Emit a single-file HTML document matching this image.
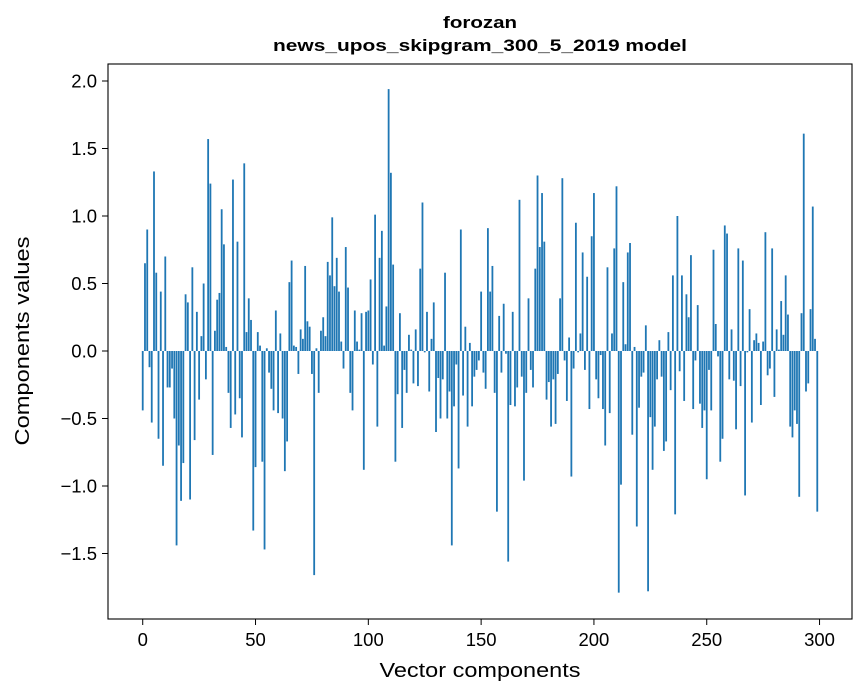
<!DOCTYPE html>
<html><head><meta charset="utf-8"><style>
body{margin:0;background:#fff;}
svg{display:block;font-family:"Liberation Sans",sans-serif;}
</style></head><body>
<svg id="chart" width="867" height="696" viewBox="0 0 867 696" xmlns="http://www.w3.org/2000/svg">
<rect x="0" y="0" width="867" height="696" fill="#fff"/>
<text x="480" y="28" text-anchor="middle" font-size="17" font-weight="bold" textLength="74" lengthAdjust="spacingAndGlyphs">forozan</text>
<text x="480" y="51" text-anchor="middle" font-size="17" font-weight="bold" textLength="414" lengthAdjust="spacingAndGlyphs">news_upos_skipgram_300_5_2019 model</text>
<g id="bars"></g>
<rect x="108" y="64" width="744" height="555" fill="none" stroke="#000" stroke-width="1.1"/>
<g id="xaxis"></g>
<g id="yaxis"></g>
<text x="480" y="677" text-anchor="middle" font-size="20" textLength="201" lengthAdjust="spacingAndGlyphs">Vector components</text>
<text transform="translate(29,341) rotate(-90)" text-anchor="middle" font-size="20" textLength="209" lengthAdjust="spacingAndGlyphs">Components values</text>
</svg>
<script>
const values = [-0.44,0.65,0.90,-0.12,-0.53,1.33,0.58,-0.65,0.44,-0.85,
0.70,-0.27,-0.27,-0.13,-0.50,-1.44,-0.70,-1.11,-0.83,0.42,
0.36,-1.10,0.62,-0.66,0.29,-0.36,0.11,0.50,-0.21,1.57,
1.24,-0.77,0.15,0.38,0.43,1.05,0.79,0.03,-0.31,-0.57,
1.27,-0.47,0.81,-0.35,-0.64,1.39,0.14,0.39,0.23,-1.33,
-0.86,0.14,0.04,-0.82,-1.47,0.02,-0.16,-0.28,-0.44,0.30,
-0.46,0.13,-0.50,-0.89,-0.67,0.51,0.67,0.04,0.03,-0.17,
0.16,0.09,0.63,0.22,0.18,-0.17,-1.66,0.02,-0.31,0.15,
0.25,0.11,0.66,0.56,0.99,0.48,0.69,0.44,0.07,-0.13,
0.77,0.47,-0.31,-0.44,0.30,0.07,0.01,0.28,-0.88,0.29,
0.30,0.53,-0.10,1.01,-0.56,0.69,0.89,0.04,0.33,1.94,
1.32,0.64,-0.82,-0.32,0.28,-0.57,-0.14,-0.31,0.12,0.01,
-0.24,0.16,-0.26,0.61,1.10,-0.01,0.29,-0.30,0.09,0.36,
-0.60,-0.20,-0.50,-0.21,0.58,-0.50,-0.30,-1.44,-0.41,-0.10,
-0.87,0.90,-0.33,0.18,-0.56,0.06,-0.41,-0.19,-0.14,-0.07,
0.44,-0.16,-0.28,0.91,0.44,0.63,-0.31,-1.19,0.26,-0.16,
0.35,-0.02,-1.56,-0.40,0.29,-0.41,-0.27,1.12,-0.19,-0.96,
-0.31,0.39,-0.14,-0.27,0.61,1.30,0.77,1.17,0.81,-0.36,
-0.23,-0.56,-0.21,-0.54,-0.17,0.39,1.28,-0.07,-0.37,0.10,
-0.93,-0.13,0.95,-0.01,0.13,0.73,-0.14,0.55,-0.43,0.85,
1.17,-0.21,-0.35,-0.03,-0.43,-0.70,0.62,-0.46,0.13,0.76,
1.22,-1.79,-0.99,0.51,0.05,0.73,0.80,-0.62,0.03,-1.30,
-0.42,-0.19,-0.16,0.19,-1.78,-0.49,-0.88,-0.56,-0.21,0.08,
-0.19,-0.74,-0.67,0.14,-0.29,0.56,-1.21,1.00,-0.15,0.56,
-0.37,0.42,0.25,0.71,-0.43,-0.07,0.34,-0.39,-0.57,-0.44,
-0.95,-0.14,-0.44,0.75,0.20,-0.04,-0.82,-0.65,0.93,0.87,
-0.21,0.16,-0.22,-0.58,0.76,-0.26,0.67,-1.07,-0.01,0.31,
-0.53,0.08,0.13,0.06,-0.40,0.07,0.88,-0.18,-0.13,0.76,
-0.34,0.16,0.01,0.37,0.12,0.56,0.27,-0.56,-0.64,-0.44,
-0.54,-1.08,0.28,1.61,-0.30,-0.24,0.31,1.07,0.09,-1.19];
const xTicks = [0,50,100,150,200,250,300];
const yTicks = [-1.5,-1.0,-0.5,0.0,0.5,1.0,1.5,2.0];
const yTickLabels = ["\u22121.5","\u22121.0","\u22120.5","0.0","0.5","1.0","1.5","2.0"];

const NS="http://www.w3.org/2000/svg";
const X0=108, X1=852, XMIN=-15.39, XMAX=314.39;
function xs(v){return X0+(v-XMIN)/(XMAX-XMIN)*(X1-X0);}
function ys(v){return 351-v*135;}
const bw=(xs(0.8)-xs(0));
const gb=document.getElementById('bars');
values.forEach((v,i)=>{
  const r=document.createElementNS(NS,'rect');
  
  
  const y=Math.min(ys(v),ys(0)), h=Math.abs(ys(v)-ys(0));
  r.setAttribute('x',xs(i)-bw/2);r.setAttribute('y',y);
  r.setAttribute('width',bw);r.setAttribute('height',Math.max(h,0.01));
  r.setAttribute('fill','#1f77b4');
  gb.appendChild(r);
});
const gx=document.getElementById('xaxis');
xTicks.forEach(t=>{
  const l=document.createElementNS(NS,'line');
  
  
  l.setAttribute('x1',xs(t));l.setAttribute('x2',xs(t));l.setAttribute('y1',619);l.setAttribute('y2',625);
  l.setAttribute('stroke','#000');gx.appendChild(l);
  const tx=document.createElementNS(NS,'text');
  
  
  tx.setAttribute('x',xs(t));tx.setAttribute('y',646);tx.setAttribute('text-anchor','middle');tx.setAttribute('font-size','18.5');
  tx.textContent=String(t);gx.appendChild(tx);
});
const gy=document.getElementById('yaxis');
yTicks.forEach((t,i)=>{
  const l=document.createElementNS(NS,'line');
  
  
  l.setAttribute('x1',102);l.setAttribute('x2',108);l.setAttribute('y1',ys(t));l.setAttribute('y2',ys(t));
  l.setAttribute('stroke','#000');gy.appendChild(l);
  const tx=document.createElementNS(NS,'text');
  
  
  tx.setAttribute('x',97);tx.setAttribute('y',ys(t)+6.5);tx.setAttribute('text-anchor','end');tx.setAttribute('font-size','18.5');
  tx.textContent=yTickLabels[i];gy.appendChild(tx);
});
</script>
</body></html>
